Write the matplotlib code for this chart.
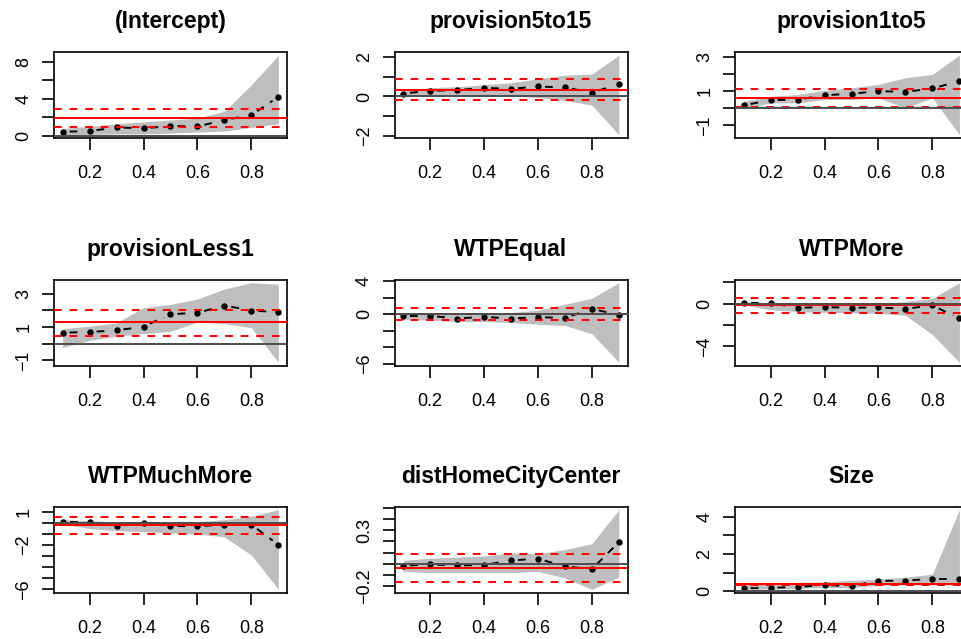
import matplotlib
matplotlib.use("Agg")
import matplotlib.pyplot as plt
import numpy as np

plt.rcParams["font.family"] = ["Liberation Sans", "DejaVu Sans"]

TAUS = [0.1, 0.2, 0.3, 0.4, 0.5, 0.6, 0.7, 0.8, 0.9]

NAMES = ["(Intercept)", "provision5to15", "provision1to5",
         "provisionLess1", "WTPEqual", "WTPMore",
         "WTPMuchMore", "distHomeCityCenter", "Size"]

# quantile regression coefficients, one row per panel
COEF = [
    [0.43, 0.50, 0.90, 0.80, 1.05, 1.00, 1.70, 2.23, 4.20],
    [0.15, 0.29, 0.32, 0.44, 0.39, 0.51, 0.46, 0.20, 0.63],
    [0.18, 0.48, 0.51, 0.77, 0.86, 1.01, 0.97, 1.17, 1.60],
    [0.66, 0.70, 0.80, 1.02, 1.77, 1.85, 2.29, 1.99, 1.89],
    [-0.20, -0.20, -0.52, -0.32, -0.52, -0.36, -0.44, 0.64, -0.08],
    [0.06, 0.06, -0.38, -0.32, -0.38, -0.35, -0.48, -0.16, -1.37],
    [0.09, 0.09, -0.27, -0.03, -0.27, -0.30, -0.15, -0.15, -1.98],
    [-0.018, -0.006, -0.015, -0.012, 0.030, 0.045, -0.024, -0.048, 0.194],
    [0.15, 0.18, 0.23, 0.32, 0.29, 0.55, 0.57, 0.66, 0.66],
]
# confidence band (gray polygon)
UPPER = [
    [0.80, 1.00, 1.30, 1.50, 1.70, 1.90, 2.65, 5.50, 8.70],
    [0.30, 0.45, 0.50, 0.60, 0.70, 0.90, 1.09, 1.14, 2.11],
    [0.42, 0.71, 0.81, 1.07, 1.21, 1.41, 1.80, 2.00, 3.13],
    [0.90, 1.05, 1.25, 2.17, 2.35, 2.68, 3.28, 3.66, 3.56],
    [0.20, 0.20, 0.10, 0.20, 0.20, 0.50, 1.20, 1.92, 3.80],
    [0.15, 0.10, 0.00, 0.00, -0.05, 0.00, 0.20, 0.50, 1.97],
    [0.30, 0.20, 0.10, 0.10, 0.10, 0.10, 0.30, 0.60, 1.20],
    [0.03, 0.05, 0.06, 0.07, 0.098, 0.09, 0.128, 0.18, 0.486],
    [0.42, 0.44, 0.47, 0.50, 0.58, 0.65, 0.75, 0.91, 4.37],
]
LOWER = [
    [0.10, 0.15, 0.20, 0.20, 0.30, 0.40, 0.50, 0.90, 1.30],
    [0.05, 0.10, 0.10, 0.10, 0.05, -0.05, -0.20, -0.44, -1.96],
    [0.00, 0.32, 0.32, 0.52, 0.52, 0.62, 0.02, 0.62, -1.56],
    [-0.23, 0.20, 0.45, 0.60, 0.74, 1.30, 1.20, 0.96, -1.12],
    [-0.60, -0.70, -0.90, -0.90, -1.00, -1.20, -1.36, -2.36, -5.80],
    [-0.10, -0.57, -0.75, -0.80, -0.85, -0.90, -1.08, -2.89, -5.49],
    [-0.10, -0.50, -0.70, -0.80, -0.90, -1.00, -1.26, -2.91, -6.00],
    [-0.07, -0.08, -0.08, -0.08, -0.08, -0.07, -0.128, -0.23, -0.12],
    [0.10, 0.12, 0.15, 0.20, 0.20, 0.30, 0.35, 0.42, 0.45],
]
# OLS estimate and its interval (red lines)
OLS = [1.90, 0.34, 0.62, 1.28, 0.08, -0.16, -0.18, -0.042, 0.37]
OLS_HI = [2.85, 0.87, 1.15, 2.05, 0.80, 0.50, 0.57, 0.086, 0.40]
OLS_LO = [0.94, -0.17, 0.10, 0.47, -0.68, -0.89, -0.96, -0.164, 0.33]

XTICKS = [0.2, 0.4, 0.6, 0.8]
YTICKS = [
    [0, 2, 4, 6, 8],
    [-2, -1, 0, 1, 2],
    [-1, 0, 1, 2, 3],
    [-1, 0, 1, 2, 3],
    [-6, -4, -2, 0, 2, 4],
    [-4, -2, 0, 2],
    [-6, -5, -4, -3, -2, -1, 0, 1],
    [-0.2, -0.1, 0.0, 0.1, 0.2, 0.3, 0.4, 0.5],
    [0, 1, 2, 3, 4],
]
YLABELS = [
    ["0", "", "4", "", "8"],
    ["\u22122", "", "0", "", "2"],
    ["\u22121", "", "1", "", "3"],
    ["\u22121", "", "1", "", "3"],
    ["\u22126", "", "", "0", "", "4"],
    ["\u22124", "", "0", ""],
    ["\u22126", "", "", "", "\u22122", "", "", "1"],
    ["\u22120.2", "", "", "", "", "0.3", "", ""],
    ["0", "", "2", "", "4"],
]

# layout in pixels of the original device
W, H = 961, 639
COL_LEFT = [54, 394.5, 735]
ROW_TOP = [52, 279.5, 506.5]
AX_W, AX_H = 233, 86
GAP_PX = 7  # R type="b": segments stop short of the points


def broken_line(ax, x, y, gap=GAP_PX, **kw):
    """Dashed connecting segments that leave a gap round each point."""
    pts = ax.transData.transform(np.column_stack([x, y]))
    inv = ax.transData.inverted()
    for p, q in zip(pts[:-1], pts[1:]):
        d = q - p
        n = np.hypot(*d)
        if n <= 2 * gap:
            continue
        u = d / n
        a, b = inv.transform([p + u * gap, q - u * gap])
        ax.plot([a[0], b[0]], [a[1], b[1]], **kw)


fig = plt.figure(figsize=(W / 100, H / 100), dpi=100)

for k, name in enumerate(NAMES):
    r, c = divmod(k, 3)
    ax = fig.add_axes([COL_LEFT[c] / W, 1 - (ROW_TOP[r] + AX_H) / H,
                       AX_W / W, AX_H / H])
    taus = np.array(TAUS)
    lo, hi = np.array(LOWER[k]), np.array(UPPER[k])

    # R-style 4% padding around the data range
    xr = taus.max() - taus.min()
    ax.set_xlim(taus.min() - 0.04 * xr, taus.max() + 0.04 * xr)
    yr = hi.max() - lo.min()
    ax.set_ylim(lo.min() - 0.04 * yr, hi.max() + 0.04 * yr)

    ax.fill_between(taus, lo, hi, color="#BEBEBE", lw=0, zorder=1)
    broken_line(ax, taus, COEF[k], color="black", lw=1.4,
                ls=(0, (4, 4)), zorder=3)
    ax.plot(taus, COEF[k], ls="none", marker="o", ms=3.6,
            mec="black", mfc="black", zorder=3)
    ax.axhline(OLS[k], color="red", lw=1.4, zorder=4)
    for v in (OLS_LO[k], OLS_HI[k]):
        ax.axhline(v, color="red", lw=1.4, ls=(0, (4, 4)), zorder=4)
    ax.axhline(0, color="#4D4D4D", lw=1.4, zorder=5)

    ax.set_xticks(XTICKS)
    ax.set_xticklabels([f"{t:.1f}" for t in XTICKS], fontsize=13)
    ax.set_yticks(YTICKS[k])
    ax.set_yticklabels(YLABELS[k], fontsize=13, rotation=90, va="center")
    ax.tick_params(axis="x", length=8.5, width=1.2, pad=11)
    ax.tick_params(axis="y", length=8.5, width=1.2, pad=7)
    for sp in ax.spines.values():
        sp.set_linewidth(1.2)
    ax.set_title(name, fontsize=16.5, fontweight="bold", pad=17)

fig.savefig("out.png", dpi=100)
